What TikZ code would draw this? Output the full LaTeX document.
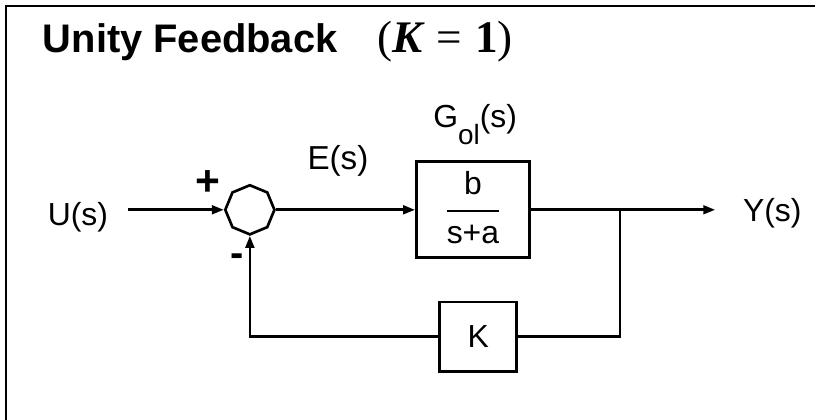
\documentclass[tikz,border=0pt]{standalone}
\usepackage{fontspec}
\setmainfont{Liberation Sans}
\newfontfamily\mathlike{Liberation Serif}
\usetikzlibrary{arrows.meta,shapes.geometric}
\newcommand\diagfont{\fontsize{24}{28}\selectfont}
\newcommand\titlefont{\fontsize{30}{36}\selectfont\bfseries}

\begin{document}
\begin{tikzpicture}[x=1cm,y=1cm,line width=2pt,
  sig/.style={-{Triangle[length=9pt,width=6.5pt]}},
  blockbox/.style={draw,line width=2pt,inner sep=0pt,font=\diagfont},
  lbl/.style={inner sep=0pt,font=\diagfont}]
\path[use as bounding box] (0,0) rectangle (21.56,11.11);
% frame (only top and left edges show)
\draw (0.16,0) -- (0.16,10.95) -- (21.56,10.95);
\node[anchor=base west,inner sep=0pt,font=\titlefont] (title) at (1.10,9.71)
  {Unity Feedback\hspace{1em}{\mathlike\mdseries\fontsize{34}{38}\selectfont
   (\textbf{\textit{K}}\hspace{0.25em}=\hspace{0.3em}\textbf{1})}};

% blocks
\node[regular polygon,regular polygon sides=8,shape border rotate=22.5,
  draw,inner sep=0pt,minimum size=1.30cm] (sum) at (6.61,5.56) {};
\node[blockbox,minimum width=2.99cm,minimum height=2.54cm] (plant) at (12.51,5.56)
  {\renewcommand\arraystretch{1.2}\setlength\arrayrulewidth{1.6pt}%
   \setlength\tabcolsep{0pt}\begin{tabular}{c}b\\[2pt]\hline s+a\end{tabular}};
\node[blockbox,minimum width=2.04cm,minimum height=1.85cm] (gain) at (12.65,2.20) {K};

% labels
\node[lbl] (uin) at (2.06,5.36) {U(s)};
\node[lbl] (yout) at (20.43,5.48) {Y(s)};
\node[lbl,font=\fontsize{25}{29}\selectfont] (err) at (8.94,6.86) {E(s)};
\node[lbl,anchor=base] (gol) at (12.57,7.75) {G\raisebox{-0.55em}{\fontsize{21}{24}\selectfont ol}(s)};
\node[lbl,font=\fontsize{32}{36}\selectfont\bfseries] (plus) at (5.50,6.27) {+};
\node[lbl,font=\fontsize{30}{34}\selectfont\bfseries] (minus) at (6.27,4.22) {-};

% signals
\coordinate (start) at (3.39,5.56);
\coordinate (branch) at (16.40,5.56);
\coordinate (stop) at (18.92,5.56);
\draw[sig] (start) -- (sum.west);
\draw[sig] (sum.east) -- (plant.west);
\draw[sig] (plant.east) -- (stop);
\draw (branch) |- (gain.east);
\draw[sig] (gain.west) -| (sum.south);
\end{tikzpicture}
\end{document}
